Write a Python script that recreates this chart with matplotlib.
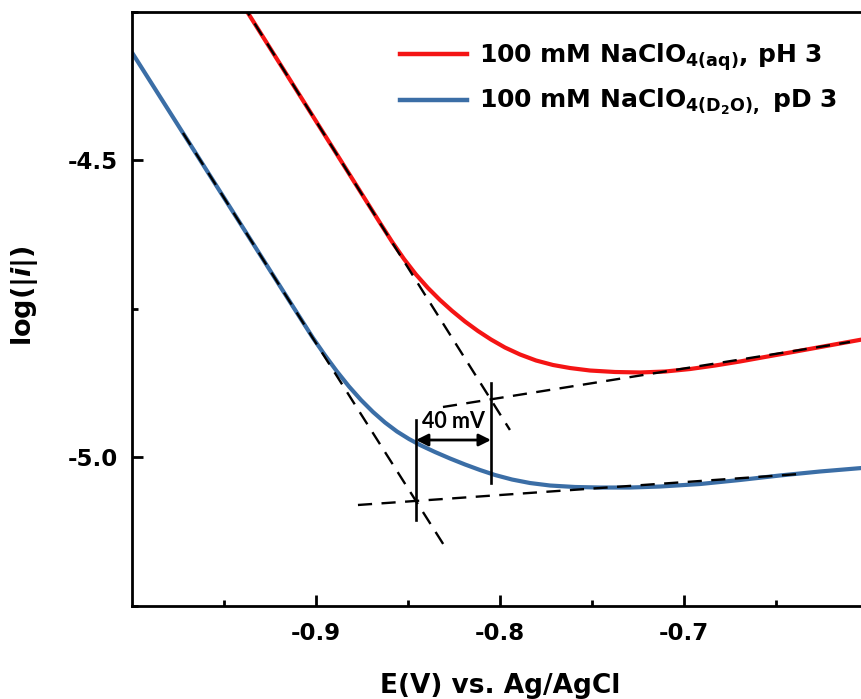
import matplotlib
matplotlib.use("Agg")
import matplotlib.pyplot as plt

# ---- data ----
E_red = [-0.94022, -0.90870, -0.88696, -0.86522, -0.85870, -0.85217, -0.84565, -0.83913,
         -0.83261, -0.82609, -0.81902, -0.81196, -0.80489, -0.79728, -0.78913, -0.78043,
         -0.77120, -0.76196, -0.75109, -0.73750, -0.72391, -0.71033, -0.69674, -0.68315,
         -0.66957, -0.65598, -0.64239, -0.62880, -0.61522, -0.60326]
L_red = [-4.2365, -4.3918, -4.4988, -4.6059, -4.6375, -4.6667, -4.6928, -4.7155,
         -4.7357, -4.7539, -4.7719, -4.7879, -4.8022, -4.8157, -4.8274, -4.8375,
         -4.8451, -4.8502, -4.8544, -4.8569, -4.8577, -4.8561, -4.8519, -4.8460,
         -4.8392, -4.8316, -4.8241, -4.8165, -4.8089, -4.8022]

E_blue = [-0.9995, -0.9723, -0.9451, -0.9179, -0.90163, -0.89511, -0.88859, -0.88207,
          -0.87554, -0.86902, -0.86250, -0.85598, -0.84946, -0.84293, -0.83533, -0.82717,
          -0.81902, -0.81087, -0.80272, -0.79348, -0.78370, -0.77283, -0.75924, -0.74565,
          -0.72935, -0.71304, -0.69130, -0.66957, -0.64783, -0.62609, -0.60326]
L_blue = [-4.3215, -4.4545, -4.5875, -4.7205, -4.7997, -4.8288, -4.8561, -4.8813,
          -4.9040, -4.9242, -4.9419, -4.9571, -4.9697, -4.9806, -4.9916, -5.0025,
          -5.0126, -5.0219, -5.0303, -5.0379, -5.0438, -5.0480, -5.0505, -5.0514,
          -5.0514, -5.0497, -5.0455, -5.0387, -5.0311, -5.0244, -5.0185]

# Tafel / baseline fit lines (endpoints)
tafel_red_E = [-0.9402, -0.7946]
tafel_red_L = [-4.2365, -4.9545]
tafel_blue_E = [-0.9723, -0.8288]
tafel_blue_L = [-4.4545, -5.1566]
base_red_E = [-0.8310, -0.6098]
base_red_L = [-4.9158, -4.8064]
base_blue_E = [-0.8772, -0.6370]
base_blue_L = [-5.0808, -5.0286]

# onset markers
onset_E = [-0.8457, -0.8049]
onset_top = [-4.9377, -4.8754]
onset_bot = [-5.1061, -5.0438]
arrow_L = -4.9714
shift_label = "40 mV"

labels = [r"100 mM NaClO$_{\mathbf{4(aq)}}$, pH 3",
          r"100 mM NaClO$_{\mathbf{4(D_2O),}}$ pD 3"]
xticks = [-0.9, -0.8, -0.7]
yticks = [-5.0, -4.5]

RED = "#f41414"
BLUE = "#3b6ea6"

plt.rcParams["font.family"] = "DejaVu Sans"
plt.rcParams["font.weight"] = "bold"
plt.rcParams["mathtext.default"] = "bf"

fig = plt.figure(figsize=(8.62, 6.99), dpi=100)
ax = fig.add_axes([132 / 862, (699 - 605.5) / 699, 736 / 862, 594 / 699])

l1, = ax.plot(E_red, L_red, color=RED, lw=3, label=labels[0], zorder=2,
              solid_joinstyle="round")
l2, = ax.plot(E_blue, L_blue, color=BLUE, lw=3, label=labels[1], zorder=2,
              solid_joinstyle="round")

dash = dict(color="black", lw=1.7, linestyle=(0, (6, 4)), zorder=3)
ax.plot(tafel_red_E, tafel_red_L, **dash)
ax.plot(tafel_blue_E, tafel_blue_L, **dash)
ax.plot(base_red_E, base_red_L, **dash)
ax.plot(base_blue_E, base_blue_L, **dash)

for e, t, b in zip(onset_E, onset_top, onset_bot):
    ax.plot([e, e], [b, t], color="black", lw=1.9, zorder=4)

ax.annotate("", xy=(onset_E[0], arrow_L), xytext=(onset_E[1], arrow_L),
            arrowprops=dict(arrowstyle="<|-|>", color="black", lw=2,
                            mutation_scale=18, shrinkA=0, shrinkB=0), zorder=4)
ax.text(sum(onset_E) / 2, arrow_L + 0.013, shift_label, ha="center", va="bottom",
        fontsize=15.5, fontfamily="Lato", fontweight="bold", zorder=5)

ax.set_xlim(-1.0, -0.6)
ax.set_ylim(-5.25, -4.25)
ax.set_xticks(xticks)
ax.set_xticklabels(["-0.9", "-0.8", "-0.7"])
ax.set_xticks([-0.95, -0.85, -0.75, -0.65], minor=True)
ax.set_yticks(yticks)
ax.set_yticklabels(["-5.0", "-4.5"])
ax.set_yticks([-5.25, -4.75, -4.25], minor=True)

ax.tick_params(which="both", direction="in", width=2, labelsize=16.5, top=False, right=False)
ax.tick_params(which="major", length=8)
ax.tick_params(which="minor", length=4)
ax.tick_params(axis="y", pad=10)
ax.tick_params(axis="x", pad=12)
for s in ax.spines.values():
    s.set_linewidth(2)

ax.set_xlabel("E(V) vs. Ag/AgCl", fontsize=19, fontweight="bold", labelpad=20)
ax.set_ylabel(r"log(|$\mathbfit{i}$|)", fontsize=19.5, fontweight="bold")
ax.yaxis.set_label_coords(-0.125, 0.521)

leg = ax.legend(handles=[l1, l2], loc="upper left", bbox_to_anchor=(400 / 862, 1 - 41 / 699),
                bbox_transform=fig.transFigure, frameon=False, fontsize=18,
                handlelength=2.7, handletextpad=0.45, labelspacing=0.58,
                borderpad=0, borderaxespad=0)
for lh in leg.get_lines():
    lh.set_linewidth(3.2)

fig.savefig("out.png", dpi=100)
